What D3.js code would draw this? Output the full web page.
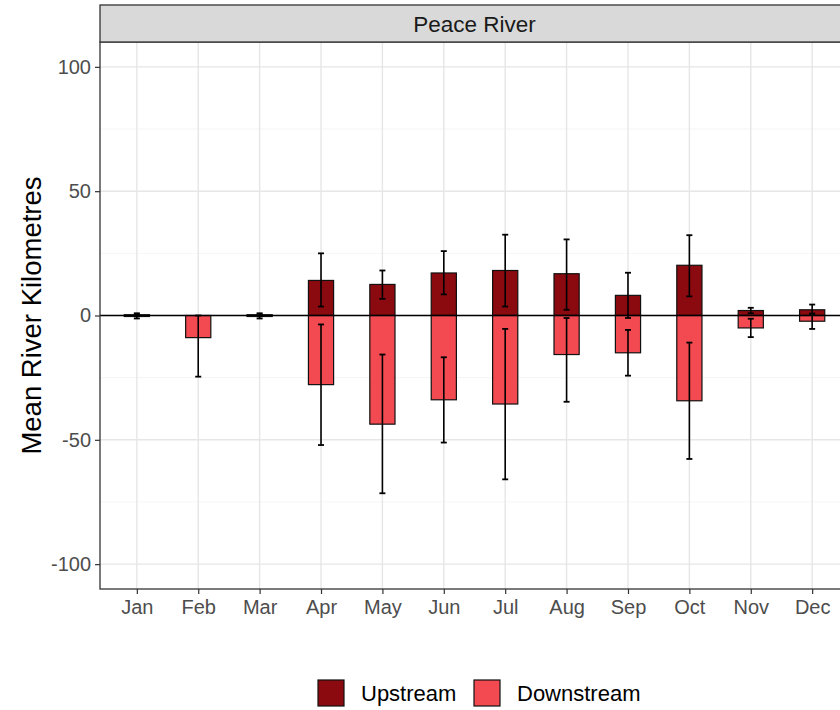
<!DOCTYPE html>
<html>
<head>
<meta charset="utf-8">
<script src="https://cdn.jsdelivr.net/npm/d3@7/dist/d3.min.js"></script>
<style>
  html, body { margin: 0; padding: 0; background: #fff; }
  svg { display: block; font-family: "Liberation Sans", Arial, sans-serif; }
</style>
</head>
<body>
<svg id="chart" width="840" height="710"></svg>
<script>
// ---- data ----
const months = ["Jan","Feb","Mar","Apr","May","Jun","Jul","Aug","Sep","Oct","Nov","Dec"];
const upstreamMean   = [0.3, 0, 0.3, 14.1, 12.5, 17.1, 18.1, 16.8, 8.1, 20.2, 2.0, 2.3];
const upstreamLow    = [-0.3, 0, -0.3, 3.6, 6.7, 8.5, 3.6, 2.3, -1.0, 7.7, 0.9, 0.2];
const upstreamHigh   = [0.9, 0, 0.9, 25.0, 18.1, 25.9, 32.5, 30.6, 17.2, 32.3, 3.1, 4.4];
const downstreamMean = [-0.4, -8.9, -0.4, -27.8, -43.7, -33.9, -35.6, -15.7, -15.0, -34.3, -5.0, -2.3];
const downstreamLow  = [-1.2, -24.6, -1.2, -52.1, -71.5, -51.1, -65.9, -34.7, -24.2, -57.7, -8.7, -5.4];
const downstreamHigh = [0.4, 0, 0.4, -3.6, -15.7, -16.8, -5.4, -1.0, -5.8, -10.9, -1.3, 0.8];
const yTicks = [-100, -50, 0, 50, 100];
const yTickLabels = ["-100", "-50", "0", "50", "100"];
const yMinor = [-75, -25, 25, 75];
const seriesNames = ["Upstream", "Downstream"];
const seriesColors = ["#8B0A10", "#F24A50"];
const panelTitle = "Peace River";
const yTitle = "Mean River Kilometres";

// ---- layout ----
const svg = d3.select("#chart");
const pL = 100, pR = 849, pT = 42, pB = 589;

const x = d3.scalePoint().domain(months).range([pL, pR]).padding(0.6);
const y = d3.scaleLinear().domain([-110, 110]).range([pB, pT]);
const step = x.step();
const barW = step * 0.41;

const plot = svg.append("g");

// panel background
plot.append("rect").attr("x", pL).attr("y", pT).attr("width", pR - pL).attr("height", pB - pT)
  .attr("fill", "#fff");

// grid
plot.selectAll(".ymin").data(yMinor).enter().append("line")
  .attr("x1", pL).attr("x2", pR).attr("y1", d => y(d)).attr("y2", d => y(d))
  .attr("stroke", "#F2F2F2").attr("stroke-width", 0.8);
plot.selectAll(".ymaj").data(yTicks).enter().append("line")
  .attr("x1", pL).attr("x2", pR).attr("y1", d => y(d)).attr("y2", d => y(d))
  .attr("stroke", "#E6E6E6").attr("stroke-width", 1.4);
plot.selectAll(".xmaj").data(months).enter().append("line")
  .attr("x1", d => x(d)).attr("x2", d => x(d)).attr("y1", pT).attr("y2", pB)
  .attr("stroke", "#E6E6E6").attr("stroke-width", 1.4);

// bars
const upData = months.map((m, i) => ({m, v: upstreamMean[i], lo: upstreamLow[i], hi: upstreamHigh[i]}));
const downData = months.map((m, i) => ({m, v: downstreamMean[i], lo: downstreamLow[i], hi: downstreamHigh[i]}));

function drawBars(data, color) {
  plot.append("g").selectAll("rect").data(data.filter(d => d.v !== 0)).enter().append("rect")
    .attr("x", d => x(d.m) - barW / 2)
    .attr("width", barW)
    .attr("y", d => y(Math.max(0, d.v)))
    .attr("height", d => Math.abs(y(d.v) - y(0)))
    .attr("fill", color)
    .attr("stroke", "#111")
    .attr("stroke-width", 1.2);
}
drawBars(upData, seriesColors[0]);
drawBars(downData, seriesColors[1]);

// zero line
plot.append("line").attr("x1", pL).attr("x2", pR).attr("y1", y(0)).attr("y2", y(0))
  .attr("stroke", "#000").attr("stroke-width", 1.6);

// error bars
function drawErr(data) {
  const g = plot.append("g").selectAll("g").data(data.filter(d => d.hi !== d.lo)).enter().append("g");
  g.append("line").attr("x1", d => x(d.m)).attr("x2", d => x(d.m))
    .attr("y1", d => y(d.lo)).attr("y2", d => y(d.hi)).attr("stroke", "#000").attr("stroke-width", 1.6);
  [d => d.lo, d => d.hi].forEach(f => {
    g.append("line").attr("x1", d => x(d.m) - 3).attr("x2", d => x(d.m) + 3)
      .attr("y1", d => y(f(d))).attr("y2", d => y(f(d))).attr("stroke", "#000").attr("stroke-width", 1.8);
  });
}
drawErr(upData);
drawErr(downData);

// panel border
plot.append("rect").attr("x", pL).attr("y", pT).attr("width", pR - pL).attr("height", pB - pT)
  .attr("fill", "none").attr("stroke", "#333").attr("stroke-width", 1.3);

// strip
svg.append("rect").attr("x", pL).attr("y", 5).attr("width", pR - pL).attr("height", pT - 5)
  .attr("fill", "#D9D9D9").attr("stroke", "#333").attr("stroke-width", 1.3);
svg.append("text").attr("x", (pL + pR) / 2).attr("y", 24).attr("text-anchor", "middle")
  .attr("dominant-baseline", "central").attr("font-size", 22.5).attr("fill", "#1A1A1A").text(panelTitle);

// axes
const yAxis = d3.axisLeft(y).tickValues(yTicks).tickSize(5).tickPadding(4)
  .tickFormat((d, i) => yTickLabels[i]);
const yg = svg.append("g").attr("transform", `translate(${pL},0)`).call(yAxis);
yg.select(".domain").remove();
yg.selectAll(".tick line").attr("stroke", "#333").attr("stroke-width", 1.2);
yg.selectAll(".tick text").attr("font-size", 20).attr("fill", "#4D4D4D")
  .attr("font-family", "Liberation Sans, Arial, sans-serif");

const xAxis = d3.axisBottom(x).tickSize(5).tickPadding(6);
const xg = svg.append("g").attr("transform", `translate(0,${pB})`).call(xAxis);
xg.select(".domain").remove();
xg.selectAll(".tick line").attr("stroke", "#333").attr("stroke-width", 1.2);
xg.selectAll(".tick text").attr("font-size", 20).attr("fill", "#4D4D4D")
  .attr("font-family", "Liberation Sans, Arial, sans-serif");

// y title
svg.append("text").attr("transform", `translate(31,${(pT + pB) / 2}) rotate(-90)`)
  .attr("text-anchor", "middle").attr("dominant-baseline", "central")
  .attr("font-size", 27.5).attr("fill", "#000").text(yTitle);

// legend
const legend = svg.append("g");
const legX = [318, 474];
seriesNames.forEach((name, i) => {
  legend.append("rect").attr("x", legX[i]).attr("y", 680).attr("width", 26).attr("height", 26)
    .attr("fill", seriesColors[i]).attr("stroke", "#111").attr("stroke-width", 1.2);
  legend.append("text").attr("x", legX[i] + 43).attr("y", 693).attr("dominant-baseline", "central")
    .attr("font-size", 22).attr("fill", "#000").text(name);
});
</script>
</body>
</html>
